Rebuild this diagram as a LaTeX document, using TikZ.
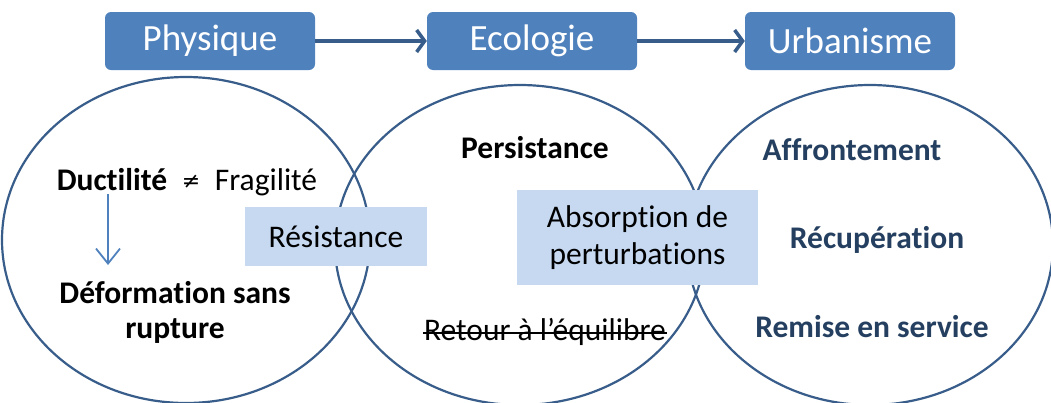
\documentclass[tikz,border=0pt]{standalone}
\usepackage{fontspec}
\setmainfont{Carlito}[Ligatures=NoCommon]
\newfontfamily\symfont{DejaVu Sans}
\usepackage{tikz}
\usetikzlibrary{positioning,arrows.meta}
\definecolor{topfill}{HTML}{4F81BD}
\definecolor{linecol}{HTML}{385D8A}
\definecolor{boxfill}{HTML}{C6D9F1}
\definecolor{darktext}{HTML}{243F60}

\begin{document}
\begin{tikzpicture}[x=1pt, y=-1pt,
    topbox/.style={fill=topfill, rounded corners=6pt, minimum width=210pt, minimum height=58pt,
        text=white, font=\fontsize{37}{42}\selectfont},
    midbox/.style={fill=boxfill, align=center, font=\fontsize{31.5}{37}\selectfont},
    word/.style={anchor=base, inner sep=1pt, font=\fontsize{31.5}{36}\selectfont},
    bword/.style={word, font=\fontsize{31.5}{36}\selectfont\bfseries},
    blueword/.style={bword, text=darktext},
    ring/.style={draw=linecol, line width=2.2pt}]
    \useasboundingbox (0,0) rectangle (1051,402);

    % Fields
    \node[topbox] (phys) at (210,41) {Physique};
    \node[topbox] (eco) at (532,41) {Ecologie};
    \node[topbox] (urb) at (850,41) {Urbanisme};
    \draw[linecol, line width=3.5pt, -{Straight Barb[length=8pt,width=22pt]}] (phys) -- (eco);
    \draw[linecol, line width=3.5pt, -{Straight Barb[length=8pt,width=22pt]}] (eco) -- (urb);

    % Ellipses
    \draw[ring] (186,240) ellipse [x radius=184, y radius=163];
    \draw[ring] (520,245) ellipse [x radius=185, y radius=160];
    \draw[ring] (870,245) ellipse [x radius=183, y radius=160];

    % Overlaps
    \node[midbox, minimum width=182pt, minimum height=59pt] (res) at (336,236.5) {Résistance};
    \node[midbox, minimum width=241pt, minimum height=95pt] (abs) at (637.5,237.5)
        {Absorption de\\perturbations};

    % Physique
    \node[bword] (duct) at (112,190) {Ductilité};
    \node[word, font=\fontsize{22}{26}\symfont] (neq) at (191,188) {≠};
    \node[word] (frag) at (266,190) {Fragilité};
    \node[bword] (defo) at (175,303) {Déformation sans};
    \node[bword] (rupt) at (175,338) {rupture};
    \draw[topfill, line width=1.8pt, -{Straight Barb[length=15pt,width=24pt]}]
        ([xshift=-4pt, yshift=-3pt]duct.south) -- ([xshift=-4pt]duct.south |- 0,265);

    % Ecologie
    \node[bword] (pers) at (535,158) {Persistance};
    \node[word] (ret) at (545,340) {Retour à l’équilibre};
    \draw[line width=1.5pt] ([yshift=7pt]ret.base west) -- ([yshift=7pt]ret.base east);

    % Urbanisme
    \node[blueword] (affr) at (852,160) {Affrontement};
    \node[blueword] (recu) at (877,248) {Récupération};
    \node[blueword] (rems) at (872,337) {Remise en service};
\end{tikzpicture}
\end{document}
